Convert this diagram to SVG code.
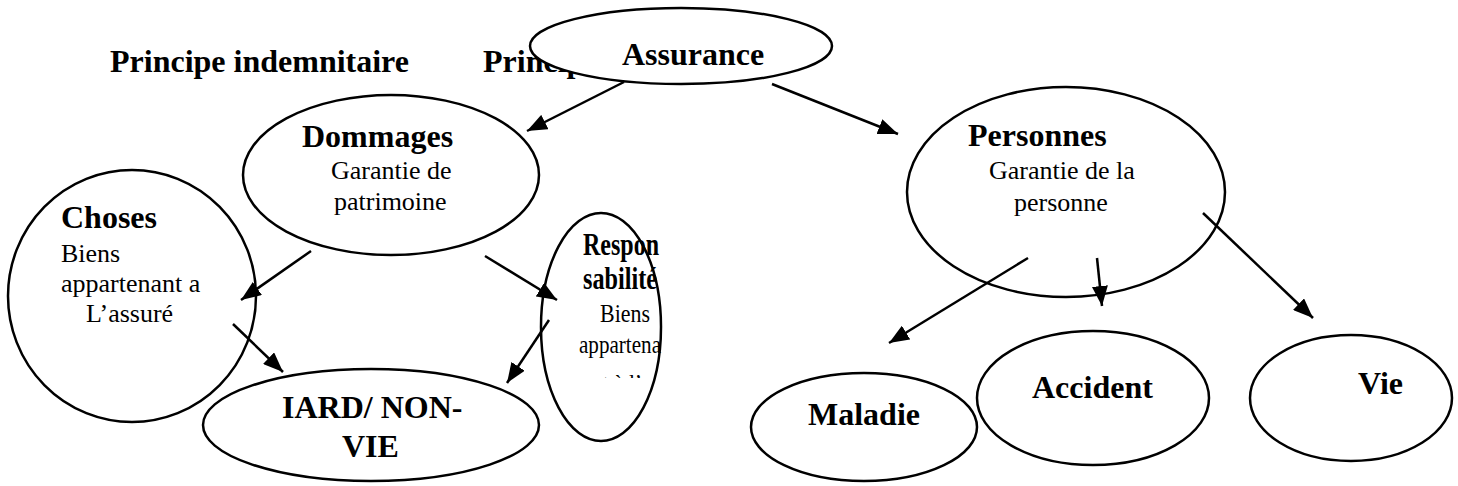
<svg xmlns="http://www.w3.org/2000/svg" width="1458" height="486" viewBox="0 0 1458 486">
  <style>
    .node ellipse { fill: #ffffff; stroke: #000000; stroke-width: 2.5; }
    .b { font-family: "Liberation Serif", "Times New Roman", serif; font-weight: bold; font-size: 32px; fill: #000000; }
    .r { font-family: "Liberation Serif", "Times New Roman", serif; font-size: 26px; fill: #000000; }
    .edge { stroke: #000000; stroke-width: 2.5; fill: none; marker-end: url(#arrow); }
  </style>
  <defs>
    <marker id="arrow" markerUnits="userSpaceOnUse" markerWidth="22" markerHeight="16" refX="20" refY="8" orient="auto">
      <path d="M0,0 L20,8 L0,16 Z" fill="#000000"/>
    </marker>
    <!-- the text box inside the narrow ellipse cuts off its last line -->
    <clipPath id="respClip">
      <rect x="540" y="215" width="125" height="163"/>
    </clipPath>
  </defs>

  <rect width="1458" height="486" fill="#ffffff"/>

  <!-- headings -->
  <g id="headings">
    <text class="b" x="110" y="72">Principe indemnitaire</text>
    <text class="b" x="483" y="72">Principe</text>
  </g>

  <!-- root -->
  <g id="assurance" class="node">
    <ellipse cx="681" cy="46" rx="151" ry="38"/>
    <text class="b" x="622" y="65">Assurance</text>
  </g>

  <g id="dommages" class="node">
    <ellipse cx="391" cy="175" rx="148" ry="80"/>
    <text class="b" x="302" y="147">Dommages</text>
    <text class="r" x="331" y="179">Garantie de</text>
    <text class="r" x="334" y="210">patrimoine</text>
  </g>

  <g id="choses" class="node">
    <ellipse cx="132" cy="296" rx="124" ry="126"/>
    <text class="b" x="61" y="228">Choses</text>
    <text class="r" x="61" y="262">Biens</text>
    <text class="r" x="61" y="292">appartenant a</text>
    <text class="r" x="86" y="322">L’assuré</text>
  </g>

  <g id="responsabilite" class="node">
    <ellipse cx="601" cy="327" rx="60" ry="114"/>
    <g clip-path="url(#respClip)">
      <text class="b" x="583" y="255" font-size="30" textLength="76" lengthAdjust="spacingAndGlyphs">Respon</text>
      <text class="b" x="583" y="289" font-size="30" textLength="74" lengthAdjust="spacingAndGlyphs">sabilité</text>
      <text class="r" x="600" y="322" font-size="24" textLength="50" lengthAdjust="spacingAndGlyphs">Biens</text>
      <text class="r" x="579" y="353" font-size="24" textLength="82" lengthAdjust="spacingAndGlyphs">appartena</text>
      <text class="r" x="592" y="392" font-size="24" textLength="50" lengthAdjust="spacingAndGlyphs">nt à l’</text>
    </g>
  </g>

  <g id="iard" class="node">
    <ellipse cx="371" cy="425" rx="168" ry="56"/>
    <text class="b" x="282" y="418">IARD/ NON-</text>
    <text class="b" x="342" y="457">VIE</text>
  </g>

  <g id="personnes" class="node">
    <ellipse cx="1066" cy="192" rx="159" ry="105"/>
    <text class="b" x="968" y="146">Personnes</text>
    <text class="r" x="989" y="179">Garantie de la</text>
    <text class="r" x="1014" y="211">personne</text>
  </g>

  <g id="maladie" class="node">
    <ellipse cx="864" cy="427" rx="113" ry="54"/>
    <text class="b" x="808" y="425">Maladie</text>
  </g>

  <g id="accident" class="node">
    <ellipse cx="1093" cy="398" rx="116" ry="67"/>
    <text class="b" x="1032" y="398">Accident</text>
  </g>

  <g id="vie" class="node">
    <ellipse cx="1351" cy="398" rx="101" ry="63"/>
    <text class="b" x="1358" y="394">Vie</text>
  </g>

  <!-- connectors -->
  <g id="connectors">
    <line class="edge" x1="624" y1="82" x2="527" y2="131"/>
    <line class="edge" x1="772" y1="84" x2="898" y2="134"/>
    <line class="edge" x1="311" y1="251" x2="241" y2="300"/>
    <line class="edge" x1="485" y1="256" x2="557" y2="300"/>
    <line class="edge" x1="233" y1="324" x2="283" y2="372"/>
    <line class="edge" x1="549" y1="320" x2="507" y2="383"/>
    <line class="edge" x1="1028" y1="258" x2="889" y2="343"/>
    <line class="edge" x1="1097" y1="258" x2="1102" y2="306"/>
    <line class="edge" x1="1203" y1="213" x2="1313" y2="318"/>
  </g>
</svg>
